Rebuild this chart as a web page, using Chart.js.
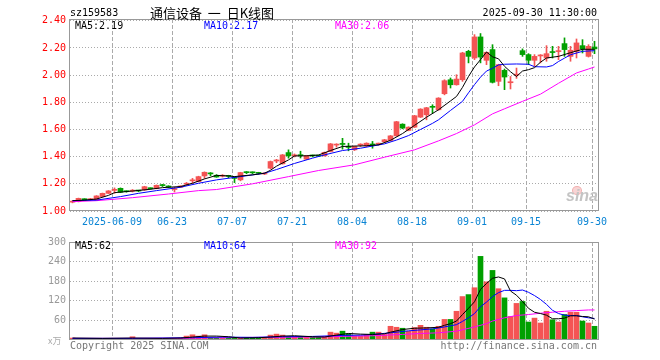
<!DOCTYPE html>
<html>
<head>
<meta charset="utf-8">
<script src="https://cdn.jsdelivr.net/npm/chart.js@4"></script>
<style>
  body { margin: 0; background: #fff; width: 660px; height: 360px; position: relative; overflow: hidden;
         font-family: "DejaVu Sans Mono", monospace; font-size: 10px; }
  canvas { position: absolute; left: 0; }
  .t { position: absolute; white-space: pre; line-height: 12px; }
</style>
</head>
<body>
<canvas id="kline" width="660" height="232" style="top:0"></canvas>
<canvas id="vol" width="660" height="128" style="top:232px"></canvas>

<div class="t" style="left:70px;top:7px;color:#000">sz159583</div>
<div class="t" style="left:150px;top:5px;font:13px 'Noto Sans CJK SC';line-height:16px;color:#000">通信设备  一  日K线图</div>
<div class="t" style="right:63px;top:7px;color:#000">2025-09-30 11:30:00</div>

<div class="t" style="left:75px;top:20px;color:#000">MA5:2.19</div>
<div class="t" style="left:204px;top:20px;color:#0000ff">MA10:2.17</div>
<div class="t" style="left:335px;top:20px;color:#ff00ff">MA30:2.06</div>

<div class="t" style="left:75px;top:240px;color:#000">MA5:62</div>
<div class="t" style="left:204px;top:240px;color:#0000ff">MA10:64</div>
<div class="t" style="left:335px;top:240px;color:#ff00ff">MA30:92</div>

<div class="t" style="left:48px;top:334px;color:#aaa;font:9px 'Noto Sans CJK SC'">x万</div>
<div class="t" style="left:70px;top:340px;color:#777">Copyright 2025 SINA.COM</div>
<div class="t" style="right:63px;top:340px;color:#777">http://finance.sina.com.cn</div>

<div class="t" style="left:572px;top:186px;width:8px;height:7px;border-radius:50%;border:1px solid #f2b0b0;background:#f8d4d4"></div>
<div class="t" style="left:566px;top:186px;color:#c4c4c4;font:italic bold 16px 'Liberation Sans';line-height:20px">sina</div>

<script>
// 日K数据 (2025-05-28 ~ 2025-09-30)
const opens  = [1.065,1.069,1.086,1.083,1.081,1.106,1.130,1.152,1.167,1.145,1.146,1.150,1.155,1.167,1.165,1.190,1.184,1.158,1.175,1.197,
                1.222,1.216,1.258,1.276,1.263,1.256,1.258,1.243,1.229,1.285,1.284,1.280,1.272,1.315,1.368,1.347,1.430,1.406,1.410,1.381,
                1.408,1.407,1.406,1.438,1.485,1.494,1.472,1.450,1.485,1.479,1.489,1.492,1.509,1.519,1.553,1.639,1.593,1.617,1.691,1.708,
                1.767,1.745,1.863,1.966,1.929,1.966,2.175,2.126,2.281,2.109,2.188,1.954,2.035,1.944,2.000,2.180,2.151,2.109,2.141,2.126,
                2.170,2.173,2.232,2.138,2.175,2.217,2.138,2.207];
const closes = [1.072,1.093,1.083,1.087,1.111,1.130,1.148,1.157,1.138,1.142,1.150,1.147,1.179,1.164,1.189,1.187,1.175,1.162,1.184,1.200,
                1.226,1.253,1.285,1.273,1.250,1.260,1.255,1.240,1.283,1.282,1.281,1.277,1.275,1.364,1.372,1.413,1.406,1.410,1.407,1.408,
                1.405,1.404,1.432,1.494,1.489,1.490,1.468,1.475,1.489,1.499,1.486,1.496,1.524,1.553,1.657,1.610,1.617,1.701,1.750,1.760,
                1.763,1.831,1.959,1.929,1.971,2.163,2.138,2.281,2.133,2.168,1.947,2.077,1.986,1.948,2.004,2.151,2.109,2.138,2.145,2.158,
                2.166,2.177,2.188,2.183,2.237,2.193,2.212,2.193];
const highs  = [1.076,1.095,1.090,1.093,1.113,1.132,1.150,1.170,1.170,1.148,1.158,1.152,1.182,1.170,1.192,1.196,1.186,1.175,1.186,1.210,
                1.240,1.256,1.288,1.283,1.268,1.268,1.263,1.253,1.285,1.290,1.288,1.285,1.282,1.368,1.380,1.416,1.450,1.420,1.440,1.410,
                1.412,1.410,1.434,1.497,1.495,1.535,1.499,1.477,1.495,1.502,1.512,1.500,1.527,1.556,1.660,1.642,1.620,1.704,1.753,1.763,
                1.782,1.834,1.966,1.979,2.003,2.168,2.183,2.298,2.306,2.170,2.224,2.080,2.045,1.990,2.052,2.193,2.158,2.151,2.151,2.217,
                2.212,2.212,2.274,2.212,2.266,2.261,2.224,2.249];
const lows   = [1.060,1.067,1.080,1.078,1.079,1.104,1.128,1.130,1.136,1.138,1.140,1.142,1.152,1.160,1.163,1.180,1.172,1.140,1.172,1.190,
                1.204,1.214,1.240,1.260,1.248,1.250,1.245,1.209,1.222,1.275,1.275,1.272,1.268,1.310,1.355,1.345,1.389,1.398,1.390,1.378,
                1.398,1.400,1.404,1.435,1.470,1.455,1.443,1.445,1.475,1.475,1.462,1.485,1.505,1.515,1.550,1.605,1.590,1.614,1.688,1.671,
                1.720,1.742,1.855,1.905,1.926,1.954,2.090,2.114,2.090,2.077,1.942,1.922,1.893,1.898,1.976,2.138,2.077,2.065,2.090,2.102,
                2.126,2.114,2.138,2.102,2.126,2.163,2.133,2.158];
// 成交量 (万)
const volumes = [6,5,4,4,5,5,5,5,5,4,10,4,5,4,5,4,4,5,6,12,
                 16,12,16,7,6,5,5,5,8,8,8,6,8,15,18,15,10,10,10,10,
                 8,8,10,24,21,27,19,12,12,16,24,24,17,42,39,36,27,38,45,39,
                 34,42,63,63,88,133,139,160,256,178,213,157,129,72,112,118,55,67,52,88,
                 62,55,78,85,85,58,52,42];

// 均线 [序号, 值]
const ma5 = [[0,1.076],[2,1.080],[4,1.088],[6,1.115],[7,1.135],[10,1.147],[13,1.160],[15,1.172],[18,1.180],[20,1.204],
             [22,1.236],[24,1.262],[26,1.258],[27,1.253],[30,1.266],[32,1.278],[33,1.300],[34,1.330],[36,1.376],[37,1.405],
             [39,1.406],[41,1.412],[43,1.445],[45,1.475],[47,1.478],[49,1.480],[51,1.487],[53,1.520],[55,1.570],[57,1.630],
             [59,1.690],[61,1.745],[63,1.810],[64,1.843],[65,1.910],[66,1.990],[67,2.060],[68,2.114],[69,2.170],[70,2.135],
             [71,2.120],[72,2.065],[73,2.025],[74,1.990],[75,2.030],[76,2.040],[77,2.055],[78,2.095],[79,2.126],[81,2.138],
             [83,2.165],[85,2.190],[87,2.190]];
const ma10 = [[0,1.076],[4,1.080],[8,1.106],[11,1.130],[14,1.150],[18,1.175],[21,1.204],[24,1.229],[28,1.253],[32,1.278],
              [34,1.305],[37,1.350],[40,1.389],[42,1.413],[45,1.445],[48,1.462],[52,1.494],[54,1.522],[56,1.555],[58,1.600],
              [60,1.645],[61,1.671],[63,1.740],[65,1.807],[66,1.870],[67,1.930],[68,1.985],[69,2.030],[70,2.050],[71,2.075],
              [72,2.080],[74,2.082],[76,2.080],[77,2.062],[79,2.060],[80,2.070],[81,2.100],[82,2.125],[83,2.150],[85,2.175],[87,2.180]];
const ma30 = [[0,1.069],[4,1.076],[10,1.098],[16,1.125],[21,1.150],[24,1.158],[30,1.200],[36,1.253],[41,1.298],[47,1.340],
              [52,1.396],[57,1.450],[61,1.516],[64,1.570],[67,1.634],[70,1.715],[72,1.752],[75,1.807],[78,1.860],[81,1.940],
              [84,2.016],[86,2.045],[87,2.060]];
const volMa5 = [[0,6],[5,5],[10,6],[15,5],[18,6],[20,9],[22,12],[24,12],[26,10],[28,6],[31,7],[33,9],[35,12],[37,13],
                [40,10],[42,9],[44,15],[46,20],[48,18],[50,17],[52,19],[53,24],[55,32],[57,36],[59,37],[61,39],[62,45],
                [63,50],[64,58],[65,78],[66,97],[67,117],[68,155],[69,173],[70,189],[71,193],[72,187],[73,150],[74,137],
                [75,118],[76,97],[77,85],[78,81],[79,76],[80,65],[81,65],[82,67],[83,74],[84,74],[85,72],[86,71],[87,64]];
const volMa10 = [[0,5],[10,5],[20,7],[25,9],[30,8],[35,10],[40,11],[45,14],[48,15],[50,17],[53,22],[56,28],[58,31],
                 [60,34],[62,40],[64,47],[65,57],[66,68],[67,81],[68,102],[69,116],[70,133],[71,145],[72,152],[73,152],
                 [74,151],[75,153],[76,146],[77,136],[78,124],[79,109],[80,91],[81,81],[82,76],[83,75],[84,75],[85,71],
                 [86,68],[87,66]];
const volMa30 = [[0,5],[10,5],[20,6],[30,8],[40,9],[45,11],[50,13],[55,17],[58,20],[61,22],[64,27],[67,40],[69,50],
                 [70,58],[72,68],[74,75],[76,78],[78,82],[80,85],[82,88],[84,90],[86,92],[87,92]];

const tickIdx = [7, 17, 27, 37, 47, 57, 67, 76, 87];
const tickLabels = ['2025-06-09', '06-23', '07-07', '07-21', '08-04', '08-18', '09-01', '09-15', '09-30'];
const priceTicks = [1.0, 1.2, 1.4, 1.6, 1.8, 2.0, 2.2, 2.4];
const volTicks = [0, 60, 120, 180, 240, 300];

const RED = '#f45454', GREEN = '#00a000';
const idx = opens.map((_, i) => i);
const colors = idx.map(i => closes[i] >= opens[i] ? RED : GREEN);
const mono = { family: 'DejaVu Sans Mono', size: 10 };

// 外框
const frame = {
  id: 'frame',
  afterDraw(chart) {
    const a = chart.chartArea, ctx = chart.ctx;
    ctx.save();
    ctx.strokeStyle = '#999';
    ctx.lineWidth = 1;
    ctx.strokeRect(Math.round(a.left) - 0.5, Math.round(a.top) + 0.5,
                   Math.round(a.right - a.left) + 1, Math.round(a.bottom - a.top) - 1);
    ctx.restore();
  }
};

function line(points, color) {
  return {
    type: 'line', data: points.map(p => ({ x: p[0], y: p[1] })), borderColor: color,
    borderWidth: 1, pointRadius: 0, tension: 0, order: 0
  };
}

function xAxis(showLabels, height) {
  return {
    type: 'linear', min: -0.4167, max: 87.5833, offset: false,
    afterBuildTicks: s => { s.ticks = tickIdx.map(v => ({ value: v - 0.4167 })); },
    afterFit: s => { s.height = height; },
    grid: { color: '#aaa', drawTicks: false, offset: false },
    border: { display: false, dash: [4, 2] },
    ticks: {
      display: showLabels, autoSkip: false, maxRotation: 0, padding: 5,
      color: '#0a84d4', font: mono,
      callback: (v, i) => tickLabels[i]
    }
  };
}

new Chart(document.getElementById('kline'), {
  type: 'bar',
  data: {
    datasets: [
      line(ma5, '#000000'),
      line(ma10, '#0000ff'),
      line(ma30, '#ff00ff'),
      {
        data: idx.map(i => ({ x: i, y: [opens[i], closes[i]] })),
        backgroundColor: colors, barThickness: 5, minBarLength: 1, grouped: false, order: 1
      },
      {
        data: idx.map(i => ({ x: i, y: [lows[i], highs[i]] })),
        backgroundColor: colors, barThickness: 1, grouped: false, order: 2
      }
    ]
  },
  options: {
    responsive: false, animation: false,
    layout: { padding: { top: 19, right: 62, left: 0, bottom: 0 } },
    plugins: { legend: { display: false }, tooltip: { enabled: false } },
    scales: {
      x: xAxis(true, 21),
      y: {
        min: 1.0, max: 2.413,
        afterBuildTicks: s => { s.ticks = priceTicks.map(v => ({ value: v })); },
        afterFit: s => { s.width = 70; },
        grid: { color: '#aaa', drawTicks: false },
        border: { display: false, dash: [1, 2] },
        ticks: { color: '#ff0000', font: mono, padding: 4, callback: v => v.toFixed(2) }
      }
    }
  },
  plugins: [frame]
});

new Chart(document.getElementById('vol'), {
  type: 'bar',
  data: {
    datasets: [
      line(volMa5, '#000000'),
      line(volMa10, '#0000ff'),
      line(volMa30, '#ff00ff'),
      {
        data: idx.map(i => ({ x: i, y: volumes[i] })),
        backgroundColor: colors, barThickness: 5, minBarLength: 1, order: 1
      }
    ]
  },
  options: {
    responsive: false, animation: false,
    layout: { padding: { top: 8, right: 62, left: 0, bottom: 0 } },
    plugins: { legend: { display: false }, tooltip: { enabled: false } },
    scales: {
      x: xAxis(false, 20),
      y: {
        min: 0, max: 300,
        afterBuildTicks: s => { s.ticks = volTicks.map(v => ({ value: v })); },
        afterFit: s => { s.width = 70; },
        grid: { color: ctx => ctx.tick.value === 0 || ctx.tick.value === 300 ? 'transparent' : '#aaa', drawTicks: false },
        border: { display: false, dash: [1, 2] },
        ticks: { color: '#999', font: mono, padding: 4, callback: v => v === 0 ? '' : String(v) }
      }
    }
  },
  plugins: [frame]
});
</script>
</body>
</html>
